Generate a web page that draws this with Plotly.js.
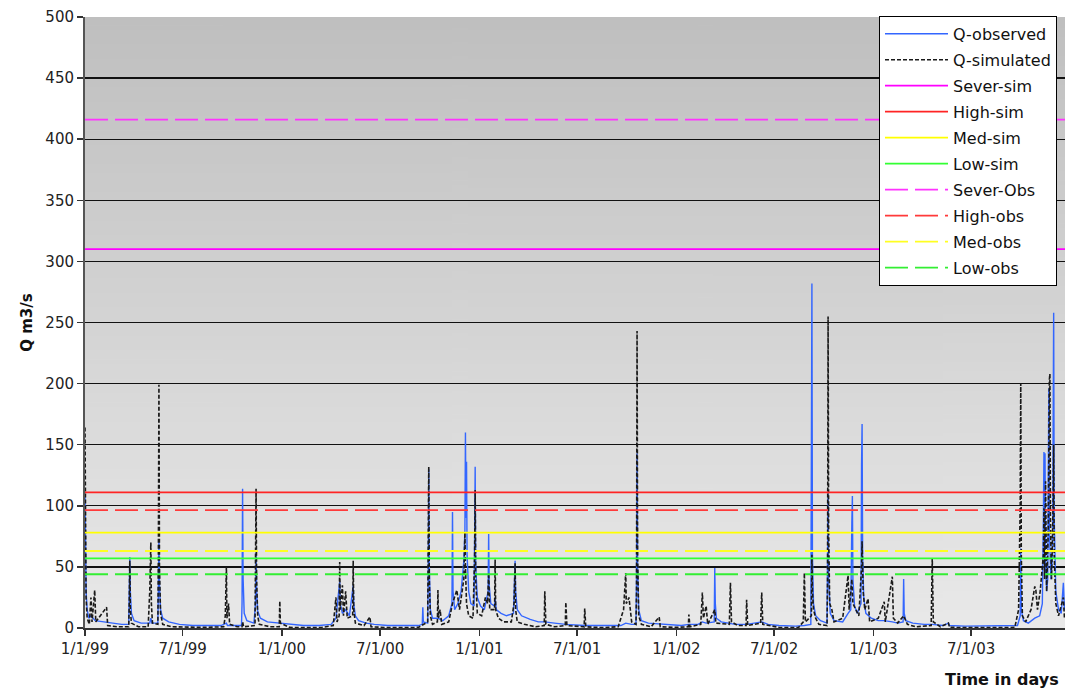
<!DOCTYPE html>
<html>
<head>
<meta charset="utf-8">
<script src="https://cdn.plot.ly/plotly-3.0.1.min.js"></script>
<style>
  html, body { margin: 0; padding: 0; background: #ffffff; }
  #chart { width: 1065px; height: 692px; }
</style>
</head>
<body>
<div id="chart"></div>
<script>
// Daily discharge, observed (m3/s): [date, Q]
const qObserved = [
  ['1999-01-01',110],['1999-01-02',60],['1999-01-03',30],['1999-01-05',15],['1999-01-08',8],['1999-01-12',10],
  ['1999-01-20',6],['1999-02-05',5],['1999-02-20',4],['1999-03-10',3],['1999-03-23',3],['1999-03-24',25],
  ['1999-03-25',58],['1999-03-26',30],['1999-03-28',12],['1999-04-02',6],['1999-04-15',4],['1999-05-01',4],
  ['1999-05-03',8],['1999-05-05',4],['1999-05-16',4],['1999-05-17',30],['1999-05-18',72],['1999-05-19',35],
  ['1999-05-21',15],['1999-05-25',8],['1999-06-05',5],['1999-06-25',3],['1999-07-20',2],['1999-08-15',2],
  ['1999-09-10',2],['1999-09-20',4],['1999-09-22',2],['1999-10-18',2],['1999-10-19',20],['1999-10-20',114],
  ['1999-10-21',40],['1999-10-23',12],['1999-10-28',6],['1999-11-10',4],['1999-11-13',20],['1999-11-14',62],
  ['1999-11-15',30],['1999-11-17',14],['1999-11-22',8],['1999-12-05',5],['1999-12-28',4],
  ['2000-01-15',3],['2000-02-10',2],['2000-03-10',2],['2000-04-01',3],['2000-04-10',8],['2000-04-17',38],
  ['2000-04-18',20],['2000-04-22',12],['2000-04-28',15],['2000-05-05',10],['2000-05-12',35],['2000-05-13',20],
  ['2000-05-16',10],['2000-05-22',6],['2000-06-05',4],['2000-06-20',3],['2000-07-15',2],['2000-08-15',2],
  ['2000-09-10',2],['2000-09-17',3],['2000-09-18',17],['2000-09-19',5],['2000-09-27',4],['2000-09-28',40],
  ['2000-09-29',130],['2000-09-30',50],['2000-10-02',15],['2000-10-06',8],['2000-10-16',8],['2000-10-25',6],
  ['2000-11-05',10],['2000-11-11',20],['2000-11-12',95],['2000-11-13',30],['2000-11-16',15],['2000-11-22',20],
  ['2000-11-28',30],['2000-12-03',55],['2000-12-05',80],['2000-12-06',160],['2000-12-07',90],['2000-12-08',136],
  ['2000-12-09',60],['2000-12-12',30],['2000-12-16',20],['2000-12-22',18],['2000-12-23',60],['2000-12-24',132],
  ['2000-12-25',50],['2000-12-28',25],
  ['2001-01-03',18],['2001-01-10',15],['2001-01-17',30],['2001-01-18',77],['2001-01-19',35],['2001-01-22',20],
  ['2001-01-29',18],['2001-01-30',25],['2001-02-01',15],['2001-02-10',12],['2001-02-20',10],['2001-03-05',12],
  ['2001-03-07',40],['2001-03-08',55],['2001-03-09',30],['2001-03-12',15],['2001-03-20',10],['2001-04-05',7],
  ['2001-04-20',5],['2001-05-02',5],['2001-05-20',4],['2001-06-10',3],['2001-07-15',2],['2001-08-15',2],
  ['2001-09-20',2],['2001-09-29',4],['2001-10-10',3],['2001-10-18',3],['2001-10-19',40],['2001-10-20',143],
  ['2001-10-21',50],['2001-10-23',15],['2001-10-28',6],['2001-11-10',4],['2001-12-10',3],
  ['2002-01-10',2],['2002-01-24',3],['2002-02-10',3],['2002-02-18',5],['2002-02-25',4],['2002-03-12',5],
  ['2002-03-13',49],['2002-03-14',20],['2002-03-16',8],['2002-03-25',5],['2002-04-11',4],['2002-04-20',3],
  ['2002-05-11',3],['2002-06-08',5],['2002-06-20',3],['2002-07-10',2],['2002-08-10',1.5],['2002-08-26',2],
  ['2002-09-07',3],['2002-09-08',143],['2002-09-09',282],['2002-09-10',60],['2002-09-12',20],['2002-09-16',10],
  ['2002-09-25',6],['2002-10-07',4],['2002-10-08',40],['2002-10-09',110],['2002-10-10',40],['2002-10-13',12],
  ['2002-10-20',6],['2002-11-05',5],['2002-11-15',12],['2002-11-20',15],['2002-11-22',86],['2002-11-23',108],
  ['2002-11-24',40],['2002-11-27',18],['2002-12-02',12],['2002-12-09',20],['2002-12-10',133],['2002-12-11',167],
  ['2002-12-12',60],['2002-12-14',25],['2002-12-18',12],['2002-12-28',8],
  ['2003-01-10',6],['2003-01-21',6],['2003-02-05',5],['2003-02-15',4],['2003-02-25',5],['2003-02-26',40],
  ['2003-02-27',12],['2003-03-02',6],['2003-03-15',4],['2003-04-05',3],['2003-04-20',3],['2003-05-10',2],
  ['2003-05-20',4],['2003-05-22',2],['2003-06-20',1.5],['2003-07-20',1.5],['2003-08-10',2],['2003-09-01',1.5],
  ['2003-09-25',2],['2003-09-30',10],['2003-10-01',65],['2003-10-02',15],['2003-10-06',6],['2003-10-15',4],
  ['2003-10-27',8],['2003-11-05',10],['2003-11-10',20],['2003-11-12',90],['2003-11-13',144],['2003-11-14',60],
  ['2003-11-15',143],['2003-11-16',50],['2003-11-18',30],['2003-11-20',40],['2003-11-21',120],['2003-11-22',196],
  ['2003-11-23',80],['2003-11-26',40],['2003-11-29',60],['2003-11-30',150],['2003-12-01',258],['2003-12-02',90],
  ['2003-12-05',30],['2003-12-10',15],['2003-12-15',12],['2003-12-19',37],['2003-12-21',15]
];

// Daily discharge, simulated (m3/s): [date, Q]
const qSimulated = [
  ['1999-01-01',164],['1999-01-02',70],['1999-01-03',25],['1999-01-05',8],['1999-01-09',3],['1999-01-12',25],
  ['1999-01-14',5],['1999-01-19',31],['1999-01-21',5],['1999-02-10',17],['1999-02-12',2],['1999-03-01',1],
  ['1999-03-23',1],['1999-03-24',20],['1999-03-25',55],['1999-03-26',15],['1999-03-28',4],['1999-04-10',1],
  ['1999-04-28',1],['1999-05-01',30],['1999-05-03',70],['1999-05-04',20],['1999-05-06',4],['1999-05-16',3],
  ['1999-05-17',60],['1999-05-18',199],['1999-05-19',50],['1999-05-21',12],['1999-05-25',3],['1999-06-10',1],
  ['1999-07-10',0.5],['1999-08-10',0.5],['1999-09-15',1],['1999-09-18',10],['1999-09-20',50],['1999-09-21',8],
  ['1999-09-24',20],['1999-09-26',3],['1999-10-10',1],['1999-10-19',1],['1999-10-20',5],['1999-10-22',1],
  ['1999-11-12',2],['1999-11-13',40],['1999-11-14',114],['1999-11-15',40],['1999-11-17',10],['1999-11-20',3],
  ['1999-12-10',1],['1999-12-27',1],['1999-12-28',22],['1999-12-29',4],
  ['2000-01-15',0.5],['2000-02-15',0.3],['2000-03-15',0.5],['2000-04-05',2],['2000-04-10',25],['2000-04-12',5],
  ['2000-04-16',10],['2000-04-17',54],['2000-04-18',15],['2000-04-22',35],['2000-04-24',10],['2000-04-28',30],
  ['2000-05-01',8],['2000-05-11',10],['2000-05-12',55],['2000-05-13',15],['2000-05-16',4],['2000-06-01',2],
  ['2000-06-12',9],['2000-06-14',1],['2000-07-15',0.3],['2000-08-15',0.3],['2000-09-10',0.5],['2000-09-27',5],
  ['2000-09-28',50],['2000-09-29',132],['2000-09-30',40],['2000-10-02',10],['2000-10-06',3],['2000-10-15',5],
  ['2000-10-16',31],['2000-10-17',8],['2000-10-20',15],['2000-10-23',3],['2000-11-05',5],['2000-11-12',20],
  ['2000-11-20',31],['2000-11-25',15],['2000-12-03',40],['2000-12-05',78],['2000-12-06',50],['2000-12-08',20],
  ['2000-12-12',10],['2000-12-20',8],['2000-12-23',60],['2000-12-24',113],['2000-12-25',40],['2000-12-28',12],
  ['2001-01-05',10],['2001-01-12',25],['2001-01-16',20],['2001-01-18',45],['2001-01-20',15],['2001-01-29',15],
  ['2001-01-30',56],['2001-01-31',15],['2001-02-05',8],['2001-02-15',5],['2001-03-01',5],['2001-03-06',20],
  ['2001-03-08',53],['2001-03-09',15],['2001-03-12',5],['2001-03-25',3],['2001-04-15',1],['2001-05-01',2],
  ['2001-05-02',30],['2001-05-04',3],['2001-05-20',1],['2001-06-09',2],['2001-06-10',21],['2001-06-12',2],
  ['2001-07-14',1],['2001-07-15',16],['2001-07-17',1],['2001-08-15',0.3],['2001-09-15',1],['2001-09-25',15],
  ['2001-09-29',45],['2001-09-30',20],['2001-10-05',25],['2001-10-10',5],['2001-10-18',3],['2001-10-19',30],
  ['2001-10-20',243],['2001-10-21',60],['2001-10-23',10],['2001-10-28',3],['2001-11-15',1],['2001-11-30',9],
  ['2001-12-02',1],['2001-12-30',0.5],
  ['2002-01-23',1],['2002-01-24',11],['2002-01-26',1],['2002-02-15',3],['2002-02-18',29],['2002-02-20',8],
  ['2002-02-25',18],['2002-02-28',3],['2002-03-13',15],['2002-03-15',4],['2002-04-09',3],['2002-04-11',37],
  ['2002-04-13',5],['2002-04-25',2],['2002-05-10',2],['2002-05-11',23],['2002-05-13',2],['2002-06-06',4],
  ['2002-06-08',29],['2002-06-10',3],['2002-07-10',0.5],['2002-08-15',0.3],['2002-08-24',5],['2002-08-26',45],
  ['2002-08-28',5],['2002-09-08',10],['2002-09-09',60],['2002-09-10',30],['2002-09-12',15],['2002-09-16',8],
  ['2002-09-22',3],['2002-10-07',2],['2002-10-08',40],['2002-10-09',255],['2002-10-10',80],['2002-10-12',20],
  ['2002-10-16',15],['2002-10-20',5],['2002-11-05',8],['2002-11-15',43],['2002-11-17',15],['2002-11-22',40],
  ['2002-11-24',20],['2002-12-05',10],['2002-12-10',50],['2002-12-11',71],['2002-12-13',30],['2002-12-16',15],
  ['2002-12-22',24],['2002-12-25',5],
  ['2003-01-10',8],['2003-01-21',21.5],['2003-01-23',5],['2003-02-05',42],['2003-02-07',8],['2003-02-15',4],
  ['2003-02-26',10],['2003-03-05',3],['2003-03-20',1],['2003-04-18',2],['2003-04-20',57],['2003-04-22',5],
  ['2003-05-05',1],['2003-05-20',4],['2003-05-22',0.5],['2003-06-20',0.3],['2003-08-15',0.3],['2003-09-20',0.5],
  ['2003-09-27',15],['2003-09-30',100],['2003-10-01',200],['2003-10-02',60],['2003-10-04',10],['2003-10-10',5],
  ['2003-10-20',15],['2003-10-27',34],['2003-10-29',31],['2003-11-01',15],['2003-11-06',30],['2003-11-12',60],
  ['2003-11-13',98],['2003-11-14',40],['2003-11-16',120],['2003-11-18',30],['2003-11-21',80],['2003-11-23',203],
  ['2003-11-24',208],['2003-11-25',90],['2003-11-27',40],['2003-11-30',100],['2003-12-01',150],['2003-12-02',60],
  ['2003-12-05',20],['2003-12-10',10],['2003-12-19',25],['2003-12-21',8]
];

// Drought / flood class thresholds (m3/s)
const thresholdNames  = ['Sever-sim','High-sim','Med-sim','Low-sim','Sever-Obs','High-obs','Med-obs','Low-obs'];
const thresholdValues = [310, 111, 78, 57, 416, 96.5, 63, 44];

// Period shown on the time axis
const periodStart = '1999-01-01';
const periodEnd   = '2003-12-22';

const yTickStep = 50;
const yMax = 500;

// Line styles for the threshold traces
const thresholdColors = ['#ff00ff','#ff2424','#ffff00','#33ff33','#ff33ff','#ff3a3a','#ffff22','#33ee33'];
const thresholdDash   = ['solid','solid','solid','solid','23px,7px','23px,7px','23px,7px','23px,7px'];

const FONT = 'DejaVu Sans, Verdana, sans-serif';

const traces = [];
traces.push({
  type: 'scatter', mode: 'lines', name: 'Q-observed', legendgroup: 'g0',
  x: qObserved.map(d => d[0]), y: qObserved.map(d => d[1]),
  line: { color: '#3366ff', width: 1.4 }
});
traces.push({
  type: 'scatter', mode: 'lines', name: 'Q-simulated', legendgroup: 'g1',
  x: qSimulated.map(d => d[0]), y: qSimulated.map(d => d[1]),
  line: { color: '#1a1a1a', width: 1.6, dash: '4px,2px' }
});
thresholdNames.forEach((name, i) => {
  traces.push({
    type: 'scatter', mode: 'lines', name: name, legendgroup: 'g' + (i + 2),
    x: [periodStart, periodEnd], y: [thresholdValues[i], thresholdValues[i]],
    line: { color: thresholdColors[i], width: 1.8, dash: thresholdDash[i] }
  });
});

// Vertical grey gradient for the plotting area
function gradientImage() {
  const c = document.createElement('canvas');
  c.width = 4; c.height = 256;
  const g = c.getContext('2d');
  const grad = g.createLinearGradient(0, 0, 0, 256);
  grad.addColorStop(0, 'rgb(191,191,191)');
  grad.addColorStop(1, 'rgb(233,233,233)');
  g.fillStyle = grad;
  g.fillRect(0, 0, 4, 256);
  return c.toDataURL('image/png');
}

const layout = {
  width: 1065, height: 692,
  margin: { l: 85, r: 0, t: 17, b: 64, autoexpand: false },
  paper_bgcolor: '#ffffff',
  plot_bgcolor: 'rgba(0,0,0,0)',
  font: { family: FONT, size: 15, color: '#222222' },
  showlegend: true,
  hovermode: false,
  images: [{
    source: gradientImage(), xref: 'paper', yref: 'paper',
    x: 0, y: 1, sizex: 1, sizey: 1, sizing: 'stretch', layer: 'below'
  }],
  xaxis: {
    type: 'date',
    range: [periodStart, periodEnd],
    tick0: periodStart, dtick: 'M6',
    tickformat: '%-m/%-d/%y',
    ticks: 'outside', ticklen: 6, tickcolor: '#333333', tickwidth: 1.5,
    showgrid: false, zeroline: false,
    showline: true, linecolor: '#333333', linewidth: 2,
    tickfont: { family: FONT, size: 15, color: '#222222' }
  },
  yaxis: {
    range: [0, yMax], dtick: yTickStep, tick0: 0,
    ticks: 'outside', ticklen: 6, tickcolor: '#333333', tickwidth: 1.5,
    showgrid: true, gridcolor: '#111111', gridwidth: 1.3,
    zeroline: false,
    showline: true, linecolor: '#555555', linewidth: 2,
    tickfont: { family: FONT, size: 15, color: '#222222' },
    title: { text: 'Q m3/s', font: { family: FONT, size: 15, color: '#111111', weight: 'bold' }, standoff: 9 }
  },
  legend: {
    x: 0.8102, xanchor: 'left', y: 1.002, yanchor: 'top',
    bgcolor: '#ffffff', bordercolor: '#000000', borderwidth: 1,
    font: { family: FONT, size: 16, color: '#111111' },
    tracegroupgap: 2.2, itemwidth: 63,
    itemclick: false, itemdoubleclick: false
  },
  annotations: [{
    text: '<b>Time in days</b>', xref: 'paper', yref: 'paper',
    x: 1, xanchor: 'right', y: 0, yanchor: 'top', yshift: -40, xshift: -4,
    showarrow: false, font: { family: FONT, size: 16, color: '#111111' }
  }]
};

Plotly.newPlot('chart', traces, layout, { displayModeBar: false, staticPlot: true });
</script>
</body>
</html>
